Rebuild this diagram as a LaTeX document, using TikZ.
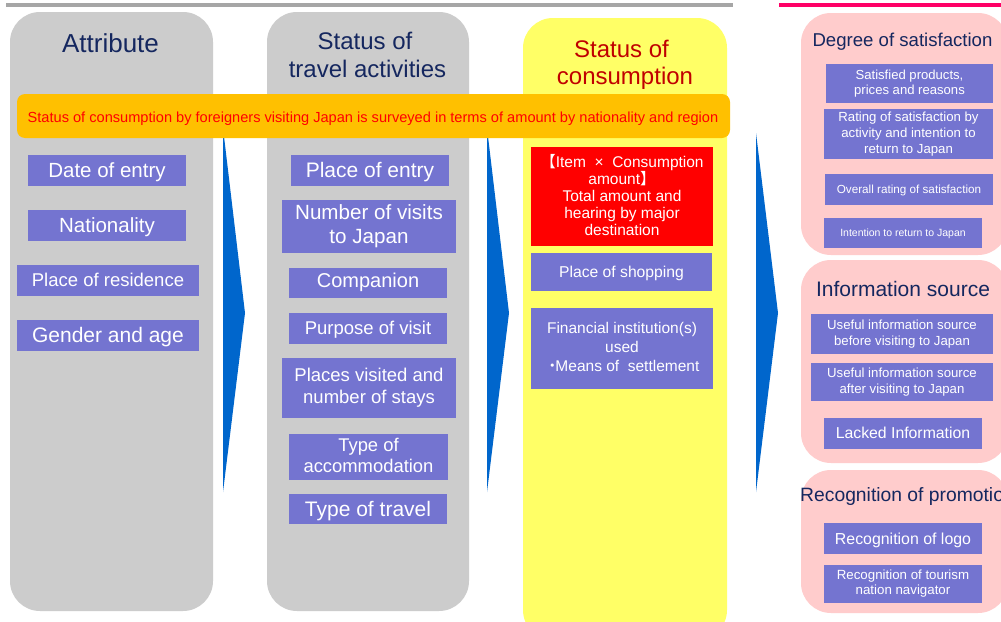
\documentclass[tikz,border=0pt]{standalone}
\usepackage{fontspec}
\setmainfont{Liberation Sans}
\newfontfamily\cjk{Noto Sans CJK JP}
\newcommand\fsz[2]{\fontsize{#1pt}{#2pt}\selectfont}
\newcommand\st{\rule[-0.212em]{0pt}{1.117em}}
\newcommand\nl{\\\st}
\definecolor{boxgray}{HTML}{CCCCCC}
\definecolor{boxyellow}{HTML}{FFFF66}
\definecolor{boxpink}{HTML}{FFCCCC}
\definecolor{itemblue}{HTML}{7474D0}
\definecolor{bannerorange}{HTML}{FFC000}
\definecolor{titlenavy}{HTML}{15275F}
\definecolor{titlered}{HTML}{C00000}
\definecolor{arrowblue}{HTML}{0066CC}
\definecolor{topgray}{HTML}{A6A6A6}
\definecolor{toppink}{HTML}{FF0066}
\begin{document}
\lineskiplimit=-30pt
\begin{tikzpicture}[x=1pt,y=-1pt,
  item/.style={fill=itemblue, text=white, inner sep=0pt, align=center, execute at begin node=\st},
  reditem/.style={item, fill=red},
  title/.style={text=titlenavy, inner sep=0pt, anchor=base},
  redtitle/.style={text=titlered, inner sep=0pt, anchor=base},
  panel/.style={rounded corners=30pt},
  chevron/.style={fill=arrowblue}]
\useasboundingbox (0,0) rectangle (1001,621);
\clip (0,0) rectangle (1001,621);
\fill[white] (0,0) rectangle (1001,621);
% top rules
\draw[topgray, line width=3.5pt] (6,5) -- (733,5);
\draw[toppink, line width=3.5pt] (779,5) -- (1010,5);
% panels
\fill[boxgray, panel] (10,12) rectangle (213,611);
\fill[boxgray, panel] (267,12) rectangle (469,611);
\fill[boxyellow, panel] (523,18) rectangle (727,640);
\fill[boxpink, panel] (801,13) rectangle (1008,255);
\fill[boxpink, panel] (801,260) rectangle (1008,463);
\fill[boxpink, panel] (801,470) rectangle (1008,613);
% chevrons
\fill[chevron] (223,128) -- (245,313) -- (223,492) -- cycle;
\fill[chevron] (487,128) -- (509,313) -- (487,492) -- cycle;
\fill[chevron] (756,133) -- (778,313) -- (756,492) -- cycle;
% banner
\fill[bannerorange, rounded corners=8pt] (17,94) rectangle (730,138);
\node[text=red, inner sep=0pt, anchor=base, font=\fsz{14.6}{17}] (banner) at (373,122)
  {Status of consumption by foreigners visiting Japan is surveyed in terms of amount by nationality and region};
% titles
\node[title, font=\fsz{26}{30}] (t1) at (110.5,52) {Attribute};
\node[title, font=\fsz{24}{28}] (t2a) at (365,49) {Status of};
\node[title, font=\fsz{24}{28}] (t2b) at (367.5,77) {travel activities};
\node[redtitle, font=\fsz{24}{28}] (t3a) at (621.5,57) {Status of};
\node[redtitle, font=\fsz{24}{28}] (t3b) at (625,84) {consumption};
\node[title, font=\fsz{18.6}{22}] (t4) at (902.5,46) {Degree of satisfaction};
\node[title, font=\fsz{21}{25}] (t5) at (903,296) {Information source};
\node[title, font=\fsz{19.3}{22}, anchor=base west] (t6) at (800,501) {Recognition of promotion};
% column 1
\node[item, minimum width=158pt, minimum height=31pt, font=\fsz{20.5}{24}] (a1) at (107,170.5) {Date of entry};
\node[item, minimum width=158pt, minimum height=31pt, font=\fsz{20.5}{24}] (a2) at (107,225.5) {Nationality};
\node[item, minimum width=182pt, minimum height=31pt, font=\fsz{18.5}{22}] (a3) at (108,280.5) {Place of residence};
\node[item, minimum width=182pt, minimum height=31pt, font=\fsz{21}{24}] (a4) at (108,335.5) {Gender and age};
% column 2
\node[item, minimum width=158pt, minimum height=31pt, font=\fsz{21}{24}] (b1) at (370,170.5) {Place of entry};
\node[item, minimum width=174pt, minimum height=53pt, font=\fsz{20.6}{24.3}] (b2) at (369,226.5) {Number of visits\nl to Japan};
\node[item, minimum width=158pt, minimum height=30pt, font=\fsz{20}{24}] (b3) at (368,283) {\raisebox{2.5pt}{Companion}};
\node[item, minimum width=158pt, minimum height=31pt, font=\fsz{18.5}{22}] (b4) at (368,328.5) {Purpose of visit};
\node[item, minimum width=174pt, minimum height=60pt, font=\fsz{18.5}{22.5}] (b5) at (369,388) {Places visited and\nl number of stays};
\node[item, minimum width=159pt, minimum height=46pt, font=\fsz{18.4}{21}] (b6) at (368.5,457) {Type of\nl accommodation};
\node[item, minimum width=158pt, minimum height=30pt, font=\fsz{21}{24}] (b7) at (368,509) {Type of travel};
% column 3
\node[reditem, minimum width=182pt, minimum height=99pt, font=\fsz{15.5}{17}] (c1) at (622,196.5)
  {{\cjk 【}Item\ \ ×\ \ Consumption\nl amount{\cjk 】}\nl Total amount and\nl hearing by major\nl destination};
\node[item, minimum width=181pt, minimum height=38pt, font=\fsz{15.7}{18}] (c2) at (621.5,272) {Place of shopping};
\node[item, minimum width=182pt, minimum height=81pt, font=\fsz{15.5}{19}] (c3) at (622,348.5)
  {Financial institution(s)\nl used\nl {\cjk ・}\kern-0.3em Means of\ \ settlement};
% column 4
\node[item, minimum width=167pt, minimum height=39pt, font=\fsz{13.1}{15}] (d1) at (909.5,83.5) {Satisfied products,\nl prices and reasons};
\node[item, minimum width=169pt, minimum height=50pt, font=\fsz{13.2}{16}] (d2) at (908.5,134) {Rating of satisfaction by\nl activity and intention to\nl return to Japan};
\node[item, minimum width=168pt, minimum height=31pt, font=\fsz{11.7}{14}] (d3) at (909,189.5) {Overall rating of satisfaction};
\node[item, minimum width=158pt, minimum height=30pt, font=\fsz{10.5}{13}] (d4) at (903,233) {Intention to return to Japan};
\node[item, minimum width=182pt, minimum height=40pt, font=\fsz{13.2}{15.5}] (e1) at (902,334) {Useful information source\nl before visiting to Japan};
\node[item, minimum width=182pt, minimum height=38pt, font=\fsz{13.2}{16}] (e2) at (902,382) {Useful information source\nl after visiting to Japan};
\node[item, minimum width=158pt, minimum height=31pt, font=\fsz{15.8}{19}] (e3) at (903,433.5) {Lacked Information};
\node[item, minimum width=158pt, minimum height=31pt, font=\fsz{15.9}{19}] (f1) at (903,538.5) {Recognition of logo};
\node[item, minimum width=158pt, minimum height=38pt, font=\fsz{13.3}{15}] (f2) at (903,584) {Recognition of tourism\nl nation navigator};
\end{tikzpicture}
\end{document}
